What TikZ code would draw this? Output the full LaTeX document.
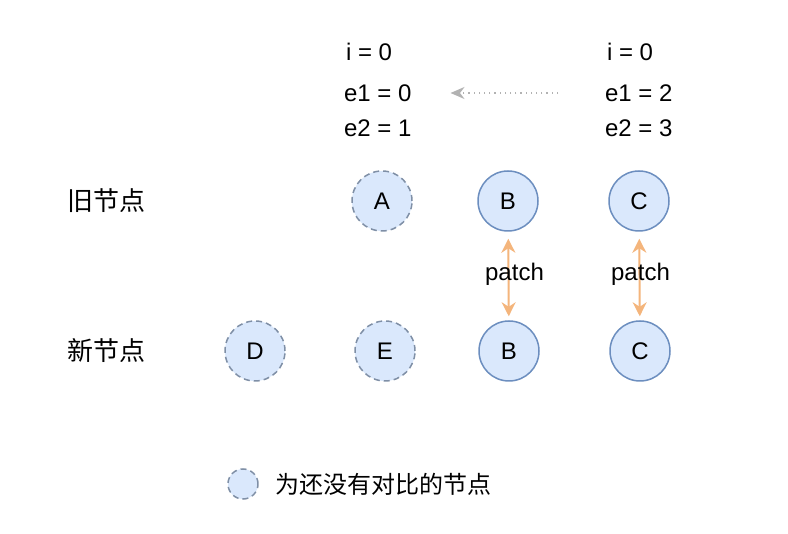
\documentclass[tikz,border=0pt]{standalone}
\usepackage{fontspec}
\setmainfont{Liberation Sans}
\newfontfamily\cjk{Noto Sans CJK SC}
\usetikzlibrary{arrows.meta}
\definecolor{vfill}{HTML}{DAE8FC}
\definecolor{vline}{HTML}{6C8EBF}
\definecolor{wline}{HTML}{7F8FA6}
\definecolor{patchline}{HTML}{F4B57C}
\tikzset{
  vnode/.style={circle,draw=vline,fill=vfill,line width=0.75pt,minimum size=30pt,inner sep=0pt},
  waitnode/.style={vnode,draw=wline,dash pattern=on 3pt off 2pt},
  patcharrow/.style={{Stealth[length=7pt,width=7pt]}-{Stealth[length=7pt,width=7pt]},line width=1pt,patchline,shorten <=3.5pt,shorten >=2pt}
}
\begin{document}
\begin{tikzpicture}[x=0.5pt,y=-0.5pt,every node/.style={font=\fontsize{12}{14}\selectfont}]
  \useasboundingbox[fill=white] (0,0) rectangle (788,534);
  % indices
  \node[anchor=west] (li) at (339,52) {i = 0};
  \node[anchor=west] (le1) at (337,93) {e1 = 0};
  \node[anchor=west] (le2) at (337,128) {e2 = 1};
  \node[anchor=west] (ri) at (600,52) {i = 0};
  \node[anchor=west] (re1) at (598,93) {e1 = 2};
  \node[anchor=west] (re2) at (598,128) {e2 = 3};
  \draw[-{Stealth[length=7pt,width=6pt]},gray!60,dotted,line width=0.6pt,shorten <=20pt,shorten >=16pt] (re1.west) -- (le1.east);
  % rows
  \node[anchor=west,font=\cjk\fontsize{13}{14}\selectfont] (old) at (60,201) {旧节点};
  \node[anchor=west,font=\cjk\fontsize{13}{14}\selectfont] (new) at (60,351) {新节点};
  \node[waitnode] (oa) at (382,201) {A};
  \node[vnode] (ob) at (508,201) {B};
  \node[vnode] (oc) at (639,201) {C};
  \node[waitnode] (nd) at (255,351) {D};
  \node[waitnode] (ne) at (385,351) {E};
  \node[vnode] (nb) at (509,351) {B};
  \node[vnode] (nc) at (640,351) {C};
  \draw[patcharrow] (ob) -- (nb) node[midway,xshift=3pt,yshift=1pt,text=black] {patch};
  \draw[patcharrow] (oc) -- (nc) node[midway,xshift=0.5pt,yshift=1pt,text=black] {patch};
  % legend
  \node[waitnode,minimum size=15pt] (key) at (243,484) {};
  \node[anchor=west,font=\cjk\fontsize{12}{14}\selectfont] (keytext) at (268,484) {为还没有对比的节点};
\end{tikzpicture}
\end{document}
